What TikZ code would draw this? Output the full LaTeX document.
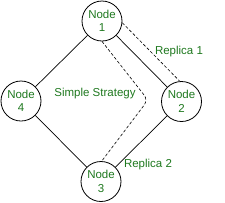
\documentclass[tikz,border=0pt]{standalone}
\usepackage{fontspec}
\setmainfont{Liberation Sans}
\begin{document}
\begin{tikzpicture}[x=1pt,y=-1pt,
  nd/.style={draw, circle, minimum size=40pt, inner sep=0pt, line width=0.8pt, text=txtgreen, align=center, font=\fontsize{11.5}{13.5}\selectfont},
  lbl/.style={text=txtgreen, font=\fontsize{11.5}{13.5}\selectfont, inner sep=0pt},
  link/.style={line width=0.7pt},
  dsh/.style={line width=0.6pt, dash pattern=on 3pt off 2pt}]
\definecolor{txtgreen}{RGB}{30,120,30}
\useasboundingbox (0,0) rectangle (225,202);
\node[nd] (n1) at (102,21) {Node\\1};
\node[nd] (n2) at (181.5,101.5) {Node\\2};
\node[nd] (n3) at (101,181.5) {Node\\3};
\node[nd] (n4) at (21,101) {Node\\4};
\draw[link] (n1) -- (n4);
\draw[link] (n1) -- (n2);
\draw[link] (n4) -- (n3);
\draw[link] (n2) -- (n3);
\coordinate (b1) at (148,100);
\draw[dsh] (n1.-5) -- (n2.95);
\draw[dsh, rounded corners=6pt] (n1.south) -- (b1) -- (n3.88);
\node[lbl] (r1) at (179,52) {Replica 1};
\node[lbl] (ss) at (95,94) {Simple Strategy};
\node[lbl] (r2) at (148,164.5) {Replica 2};
\end{tikzpicture}
\end{document}
